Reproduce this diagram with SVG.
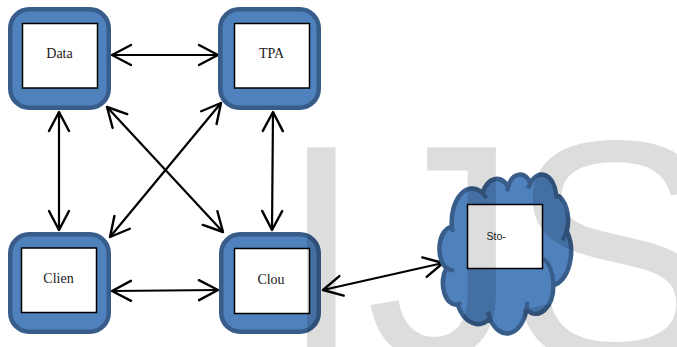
<svg xmlns="http://www.w3.org/2000/svg" width="677" height="347" viewBox="0 0 677 347">
  <style>
    .frame { fill: #4f81bd; stroke: #385d8a; stroke-width: 4.5; }
    .panel { fill: #ffffff; stroke: #000000; stroke-width: 1.5; }
    .label { font-family: "Liberation Serif", "Times New Roman", serif; font-size: 14px; fill: #1a1a1a; text-anchor: middle; }
    .small { font-family: "Liberation Sans", Arial, sans-serif; font-size: 10.5px; fill: #1a1a1a; }
    .link { fill: none; stroke: #000000; stroke-width: 2.2; marker-start: url(#head); marker-end: url(#head); }
    .cloud { fill: #4f81bd; stroke: #385d8a; stroke-width: 4.5; }
    .cloud-detail { fill: none; stroke: #385d8a; stroke-width: 4; }
    .mark { font-family: "Liberation Sans", Arial, sans-serif; font-size: 305px; fill: #000000; fill-opacity: 0.135; }
  </style>
  <defs>
    <marker id="head" viewBox="-22 -12 24 24" markerWidth="24" markerHeight="24" refX="0" refY="0" markerUnits="userSpaceOnUse" orient="auto-start-reverse">
      <path d="M -19 -10 L 0 0 L -19 10" fill="none" stroke="#000000" stroke-width="2.4" stroke-linecap="round" stroke-linejoin="round"/>
    </marker>
  </defs>

  <rect width="677" height="347" fill="#ffffff"/>

  <g id="connectors">
    <line class="link" x1="112" y1="55" x2="218" y2="55"/>
    <line class="link" x1="59" y1="112" x2="59" y2="230"/>
    <line class="link" x1="273" y1="112" x2="272" y2="230"/>
    <line class="link" x1="107" y1="107" x2="223" y2="232"/>
    <line class="link" x1="221" y1="103" x2="110" y2="237"/>
    <line class="link" x1="112" y1="291" x2="218" y2="290"/>
    <line class="link" x1="323" y1="290" x2="443" y2="263"/>
  </g>

  <g id="data">
    <rect class="frame" x="10.25" y="9.25" width="98.5" height="98.5" rx="19"/>
    <rect class="panel" x="22.5" y="23.5" width="75" height="64.5"/>
    <text class="label" x="59.5" y="58">Data</text>
  </g>

  <g id="tpa">
    <rect class="frame" x="220.25" y="9.25" width="98.5" height="98.5" rx="19"/>
    <rect class="panel" x="234.5" y="23.5" width="75" height="64.5"/>
    <text class="label" x="271.5" y="58">TPA</text>
  </g>

  <g id="clien">
    <rect class="frame" x="10.25" y="234.25" width="98.5" height="97.5" rx="19"/>
    <rect class="panel" x="21.5" y="248" width="75" height="64.5"/>
    <text class="label" x="58.5" y="283">Clien</text>
  </g>

  <g id="clou">
    <rect class="frame" x="221.25" y="234.25" width="97.5" height="97.5" rx="19"/>
    <rect class="panel" x="234.5" y="248.5" width="75" height="65"/>
    <text class="label" x="271" y="284">Clou</text>
  </g>

  <g id="storage">
    <g transform="translate(440 174) scale(0.003032 0.00368)">
      <path class="cloud" vector-effect="non-scaling-stroke" d="M 3900 14370 A 6753 9190 0 0 1 14004 5202 A 5333 7267 0 0 1 22455 3432 A 4365 5945 0 0 1 29831 2479 A 4857 6595 0 0 1 38315 5576 A 5333 7273 0 0 1 41815 15460 A 6775 9220 0 0 1 37400 30201 A 5785 7867 0 0 1 28552 36812 A 6752 9215 0 0 1 16478 39266 A 7720 10543 0 0 1 5803 35472 A 4360 5918 0 0 1 2112 25550 A 4345 5945 0 0 1 3900 14370 Z"/>
      <path class="cloud-detail" vector-effect="non-scaling-stroke" d="M 4693 26177 A 4345 5945 0 0 1 2160 25380 M 6928 34899 A 4360 5918 0 0 1 5820 35281 M 16478 39090 A 6752 9215 0 0 1 15809 37347 M 28827 34751 A 6752 9215 0 0 1 28560 36660 M 34129 22954 A 5785 7867 0 0 1 37381 30090 M 41798 15354 A 5333 7273 0 0 1 40348 18033 M 38324 5426 A 4857 6595 0 0 1 38401 6690 M 29078 3952 A 4857 6595 0 0 1 29821 2338 M 22141 4720 A 4365 5945 0 0 1 22500 3332 M 14000 5192 A 6753 9190 0 0 1 15302 6543 M 4127 15789 A 6753 9190 0 0 1 4158 14667"/>
    </g>
    <rect class="panel" x="467.5" y="204.5" width="75" height="64"/>
    <text class="small" x="486.5" y="240">Sto-</text>
  </g>

  <!-- large translucent lettering laid over the whole sheet -->
  <text class="mark" y="357"><tspan x="279">I</tspan><tspan x="366">J</tspan></text>
  <text class="mark" x="508" y="362" style="font-size:318px">S</text>
</svg>
